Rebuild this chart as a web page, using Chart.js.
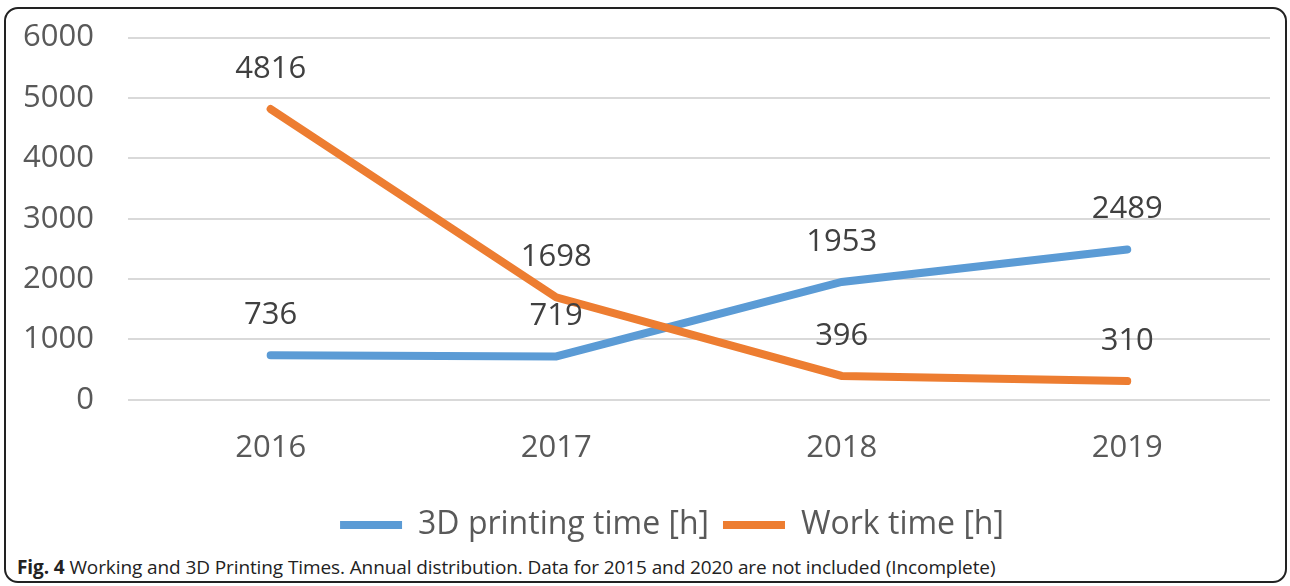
<!DOCTYPE html>
<html>
<head>
<meta charset="utf-8">
<script src="https://cdn.jsdelivr.net/npm/chart.js@4/dist/chart.umd.min.js"></script>
<style>
    body { margin: 0; background: #fff; font-family: 'Open Sans', sans-serif; }
    #frame {
        position: absolute; left: 4px; top: 7px; width: 1279px; height: 572px;
        border: 2px solid #222; border-radius: 14px; overflow: hidden;
    }
    #chartBox { position: absolute; left: -17px; top: -24px; width: 1291px; height: 566px; }
    #caption {
        position: absolute; left: 11px; top: 545px; font-size: 19px; color: #222;
        font-family: 'Open Sans', sans-serif; letter-spacing: -0.1px; white-space: nowrap;
    }
</style>
</head>
<body>
<div id="frame">
    <div id="chartBox"><canvas id="timesChart"></canvas></div>
    <div id="caption"><b>Fig. 4</b> Working and 3D Printing Times. Annual distribution. Data for 2015 and 2020 are not included (Incomplete)</div>
</div>
<script>
// values
var years = ['2016', '2017', '2018', '2019'];
var printingTime = [736, 719, 1953, 2489];
var workTime = [4816, 1698, 396, 310];
var yTicks = [0, 1000, 2000, 3000, 4000, 5000, 6000];

// draws the value above each point, like Excel's data labels
var valueLabels = {
    id: 'valueLabels',
    afterDatasetsDraw: function(chart) {
        var ctx = chart.ctx;
        ctx.save();
        ctx.font = '31px "Open Sans"';
        ctx.fillStyle = '#404040';
        ctx.textAlign = 'center';
        ctx.textBaseline = 'middle';
        chart.data.datasets.forEach(function(ds, i) {
            var meta = chart.getDatasetMeta(i);
            meta.data.forEach(function(pt, j) {
                ctx.fillText(ds.data[j], pt.x, pt.y - 40);
            });
        });
        ctx.restore();
    }
};

// the legend in the figure sits a bit right of the canvas centre
var legendNudge = {
    id: 'legendNudge',
    afterLayout: function(chart) {
        if (chart.legend) chart.legend.left += 85;
    }
};

var ctx = document.getElementById('timesChart').getContext('2d');
new Chart(ctx, {
    type: 'line',
    data: {
        labels: years,
        datasets: [{
            label: '3D printing time [h]',
            data: printingTime,
            borderColor: '#5B9BD5',
            backgroundColor: '#5B9BD5',
            borderWidth: 8,
            pointRadius: 0,
            borderCapStyle: 'round',
            order: 1
        }, {
            label: 'Work time [h]',
            data: workTime,
            borderColor: '#ED7D31',
            backgroundColor: '#ED7D31',
            borderWidth: 8,
            pointRadius: 0,
            borderCapStyle: 'round',
            order: 0
        }]
    },
    options: {
        responsive: true,
        maintainAspectRatio: false,
        animation: false,
        layout: { padding: { left: 0, right: 10, top: 0, bottom: 0 } },
        scales: {
            x: {
                offset: true,
                grid: { display: false },
                border: { display: false },
                ticks: { color: '#595959', font: { family: 'Open Sans', size: 31 }, padding: 22 },
                afterFit: function(axis) { axis.height += 6; }
            },
            y: {
                min: 0,
                max: 6000,
                afterBuildTicks: function(axis) {
                    axis.ticks = yTicks.map(function(v) { return { value: v }; });
                },
                grid: { color: '#d9d9d9', lineWidth: 2, drawTicks: false },
                border: { display: false },
                ticks: {
                    color: '#595959',
                    font: { family: 'Open Sans', size: 31 },
                    padding: 34,
                    callback: function(v) { return String(v); }
                }
            }
        },
        plugins: {
            legend: {
                position: 'bottom',
                labels: {
                    usePointStyle: true,
                    pointStyle: 'line',
                    pointStyleWidth: 62,
                    color: '#595959',
                    font: { family: 'Open Sans', size: 32 },
                    padding: 14,
                    sort: function(a, b) { return a.datasetIndex - b.datasetIndex; }
                }
            },
            tooltip: { enabled: false }
        }
    },
    plugins: [valueLabels, legendNudge]
});
</script>
</body>
</html>
